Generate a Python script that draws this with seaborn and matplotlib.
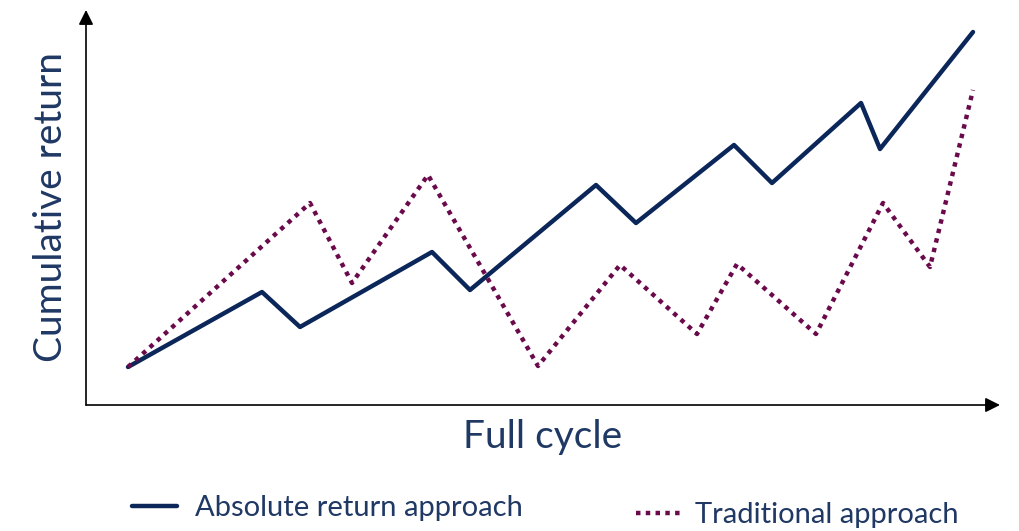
import matplotlib
matplotlib.use("Agg")
import matplotlib.pyplot as plt
import pandas as pd
import seaborn as sns

# values (arbitrary units, no ticks shown)
abs_x = [42, 176, 214, 346, 384, 510, 550, 648, 686, 775, 794, 887]
abs_y = [38, 113, 78, 153, 115, 220, 182, 260, 222, 302, 256, 373]
trad_x = [42, 224, 266, 342, 452, 534, 611, 651, 730, 797, 844, 887]
trad_y = [38, 202, 122, 230, 39, 140, 71, 141, 71, 202, 138, 315]

series = ["Absolute return approach", "Traditional approach"]
navy = "#0b2659"
maroon = "#6a0a4b"
text_col = "#1f3864"

df = pd.concat([
    pd.DataFrame({"x": abs_x, "y": abs_y, "series": series[0]}),
    pd.DataFrame({"x": trad_x, "y": trad_y, "series": series[1]}),
])

sns.set_style("white")
plt.rcParams["font.family"] = ["Lato", "DejaVu Sans"]

fig = plt.figure(figsize=(10.2, 5.31), dpi=100)
ax = fig.add_axes([86 / 1020, 126 / 531, 914 / 1020, 395 / 531])

sns.lineplot(data=df, x="x", y="y", hue="series", style="series",
             palette={series[0]: navy, series[1]: maroon},
             dashes={series[0]: "", series[1]: (1, 1.2)},
             linewidth=3.2, sort=False, legend=False, ax=ax)

ax.set_xlim(0, 914)
ax.set_ylim(0, 395)
ax.set_xticks([])
ax.set_yticks([])
for s in ax.spines.values():
    s.set_visible(False)

# axis arrows
arrow = dict(arrowstyle="-|>", color="black", lw=1.2, mutation_scale=22,
             shrinkA=0, shrinkB=0)
ax.annotate("", xy=(1, 0), xytext=(0, 0), xycoords="axes fraction",
            arrowprops=arrow, annotation_clip=False)
ax.annotate("", xy=(0, 1), xytext=(0, 0), xycoords="axes fraction",
            arrowprops=arrow, annotation_clip=False)

ax.set_xlabel("Full cycle", fontsize=28, color=text_col, labelpad=10)
ax.set_ylabel("Cumulative return", fontsize=28, color=text_col, labelpad=12)

# legend entries placed like the original
h1 = plt.Line2D([], [], color=navy, lw=3.2)
h2 = plt.Line2D([], [], color=maroon, lw=3.2, dashes=(1, 1.2))
leg1 = fig.legend([h1], [series[0]], loc="center left",
                  bbox_to_anchor=(106 / 1020, 1 - 508 / 531), frameon=False,
                  fontsize=21, handlelength=1.55, handletextpad=0.6)
leg2 = fig.legend([h2], [series[1]], loc="center left",
                  bbox_to_anchor=(610 / 1020, 1 - 515 / 531), frameon=False,
                  fontsize=21, handlelength=1.55, handletextpad=0.45)
for lg in (leg1, leg2):
    for t in lg.get_texts():
        t.set_color(text_col)

fig.savefig("out.png", dpi=100)
